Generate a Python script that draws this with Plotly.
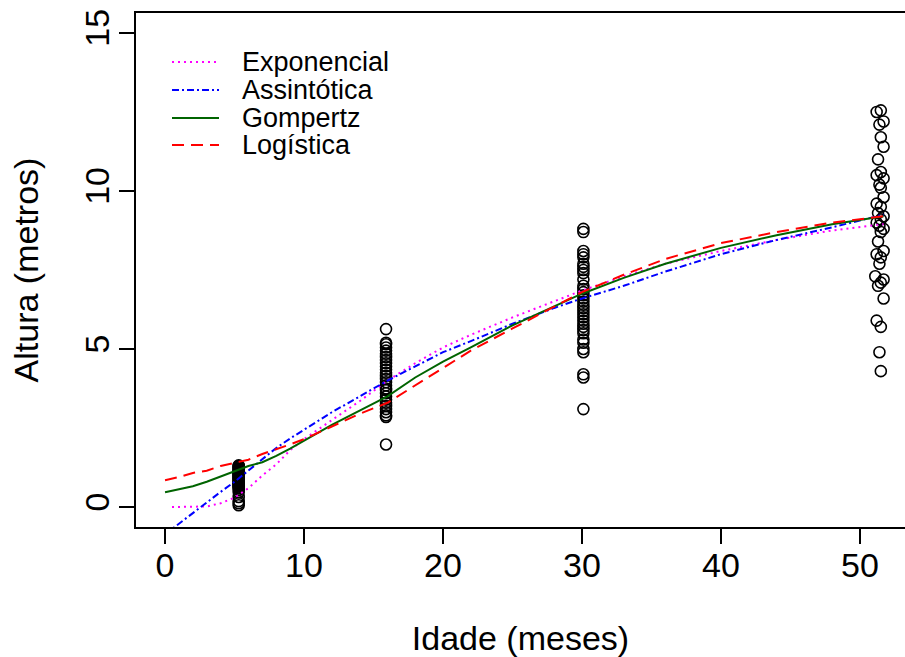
import plotly.graph_objects as go

# ---- observed data (age in months, height in metres) ----
age_g1 = [5.3] * 36
h_g1 = [1.32, 1.3, 1.28, 1.25, 1.22, 1.2, 1.18, 1.15, 1.12, 1.1, 1.08, 1.05,
        1.02, 1.0, 0.98, 0.95, 0.92, 0.9, 0.88, 0.85, 0.82, 0.8, 0.77, 0.75,
        0.72, 0.7, 0.67, 0.65, 0.62, 0.6, 0.55, 0.47, 0.32, 0.19, 0.12, 0.06]
age_g2 = [15.9] * 28
h_g2 = [5.63, 5.2, 5.15, 5.05, 4.95, 4.85, 4.75, 4.65, 4.55, 4.45, 4.35, 4.25,
        4.15, 4.05, 3.95, 3.85, 3.75, 3.7, 3.6, 3.5, 3.4, 3.3, 3.2, 3.1, 3.0,
        2.9, 2.85, 1.98]
age_g3 = [30.1] * 33
h_g3 = [8.8, 8.7, 8.1, 8.0, 7.9, 7.7, 7.6, 7.5, 7.4, 7.2, 7.0, 6.9, 6.8, 6.7,
        6.6, 6.5, 6.4, 6.3, 6.2, 6.1, 6.0, 5.9, 5.8, 5.7, 5.6, 5.5, 5.3, 5.2,
        5.0, 4.9, 4.2, 4.1, 3.1]
age_g4 = [51.5, 51.2, 51.7, 51.4, 51.5, 51.7, 51.3, 51.5, 51.2, 51.7, 51.4,
          51.5, 51.7, 51.2, 51.5, 51.3, 51.7, 51.5, 51.2, 51.4, 51.7, 51.5,
          51.3, 51.7, 51.2, 51.5, 51.4, 51.1, 51.7, 51.5, 51.3, 51.7, 51.2,
          51.5, 51.4, 51.5]
h_g4 = [12.55, 12.5, 12.2, 12.1, 11.7, 11.4, 11.0, 10.6, 10.5, 10.4, 10.2,
        10.1, 9.8, 9.6, 9.5, 9.3, 9.2, 9.1, 9.0, 8.9, 8.8, 8.7, 8.4, 8.1, 8.0,
        7.9, 7.7, 7.3, 7.2, 7.1, 7.0, 6.6, 5.9, 5.7, 4.9, 4.3]

# ---- fitted curves ----
curve_x = [0, 1, 2, 3, 4, 5, 6, 7, 8, 9, 10, 12, 14, 16, 18, 20, 22, 25, 28,
           30, 33, 36, 40, 44, 48, 51.7]
exp_x = [0.5, 1, 2, 3, 4, 5, 6, 7, 8, 9, 10, 12, 14, 16, 18, 20, 22, 25, 28,
         30, 33, 36, 40, 44, 48, 51.7]
exponencial = [0.0, 0.0, 0.0, 0.02, 0.12, 0.3, 0.6, 1.0, 1.35, 1.8, 2.15, 2.75,
               3.35, 4.0, 4.55, 5.05, 5.45, 6.0, 6.5, 6.85, 7.3, 7.7, 8.1,
               8.45, 8.75, 8.95]
assintotica = [-0.86, -0.52, -0.18, 0.15, 0.48, 0.8, 1.15, 1.5, 1.87, 2.17,
               2.45, 3.0, 3.5, 4.0, 4.45, 4.9, 5.25, 5.8, 6.3, 6.6, 7.0, 7.45,
               8.0, 8.45, 8.85, 9.25]
gompertz = [0.47, 0.57, 0.66, 0.8, 0.97, 1.15, 1.3, 1.42, 1.62, 1.85, 2.1, 2.6,
            3.05, 3.5, 4.1, 4.6, 5.05, 5.75, 6.35, 6.75, 7.25, 7.7, 8.2, 8.6,
            8.95, 9.2]
logistica = [0.85, 0.95, 1.08, 1.15, 1.3, 1.4, 1.5, 1.68, 1.82, 1.98, 2.15,
             2.55, 2.95, 3.3, 3.85, 4.4, 4.95, 5.65, 6.35, 6.8, 7.35, 7.85,
             8.35, 8.7, 9.0, 9.2]

x_ticks = [0, 10, 20, 30, 40, 50]
y_ticks = [0, 5, 10, 15]

legend_names = ["Exponencial", "Assintótica", "Gompertz", "Logística"]
legend_colors = ["#FF00FF", "#0000FF", "#006400", "#FF0000"]
legend_dash = ["2px,4px", "7px,3px,2px,3px", "solid", "12px,7px"]

FONT = "Liberation Sans, Arial, Helvetica, sans-serif"
W, H = 905, 657
L, R, T, B = 136, 0, 13, 130

fig = go.Figure()

ages = age_g1 + age_g2 + age_g3 + age_g4
heights = h_g1 + h_g2 + h_g3 + h_g4
fig.add_trace(go.Scatter(
    x=ages, y=heights, mode="markers", showlegend=False,
    marker=dict(symbol="circle-open", size=11, color="black",
                line=dict(width=1.6, color="black")),
    cliponaxis=True))

curves = [(exp_x, exponencial), (curve_x, assintotica), (curve_x, gompertz),
          (curve_x, logistica)]
for (cx, cy), name, col, dash in zip(curves, legend_names, legend_colors,
                                     legend_dash):
    fig.add_trace(go.Scatter(x=cx, y=cy, mode="lines", name=name,
                             showlegend=False,
                             line=dict(color=col, width=2, dash=dash)))

# manual legend (R style, no box)
pw, ph = W - L - R, H - T - B
row_y = [62, 90, 118, 145]
for name, col, dash, py in zip(legend_names, legend_colors, legend_dash,
                               row_y):
    yp = (H - B - py) / ph
    fig.add_shape(type="line", xref="paper", yref="paper",
                  x0=(172 - L) / pw, x1=(219 - L) / pw, y0=yp, y1=yp,
                  line=dict(color=col, width=2, dash=dash))
    fig.add_annotation(xref="paper", yref="paper", x=(240 - L) / pw, y=yp,
                       text=name, showarrow=False, xanchor="left",
                       yanchor="middle",
                       font=dict(family=FONT, size=27, color="black"))

fig.update_layout(
    width=W, height=H,
    margin=dict(l=L, r=R, t=T, b=B, pad=0),
    paper_bgcolor="white", plot_bgcolor="white",
    font=dict(family=FONT, size=34, color="black"),
    showlegend=False,
)
fig.update_xaxes(
    range=[-2.09, 53.24], tickmode="array", tickvals=x_ticks,
    ticks="outside", ticklen=15, tickwidth=2, tickcolor="black",
    showline=True, linewidth=2, linecolor="black", mirror=True,
    showgrid=False, zeroline=False, ticklabelstandoff=-8,
    tickfont=dict(family=FONT, size=34),
    title=dict(text="Idade (meses)", font=dict(family=FONT, size=34),
               standoff=44),
)
fig.update_yaxes(
    range=[-0.63, 15.63], tickmode="array", tickvals=y_ticks,
    ticks="outside", ticklen=15, tickwidth=2, tickcolor="black",
    showline=True, linewidth=2, linecolor="black", mirror=False,
    showgrid=False, zeroline=False, tickangle=-90, ticklabelstandoff=-4,
    tickfont=dict(family=FONT, size=34),
    title=dict(text="Altura (metros)", font=dict(family=FONT, size=34),
               standoff=30),
)

fig.write_html("out.html")
